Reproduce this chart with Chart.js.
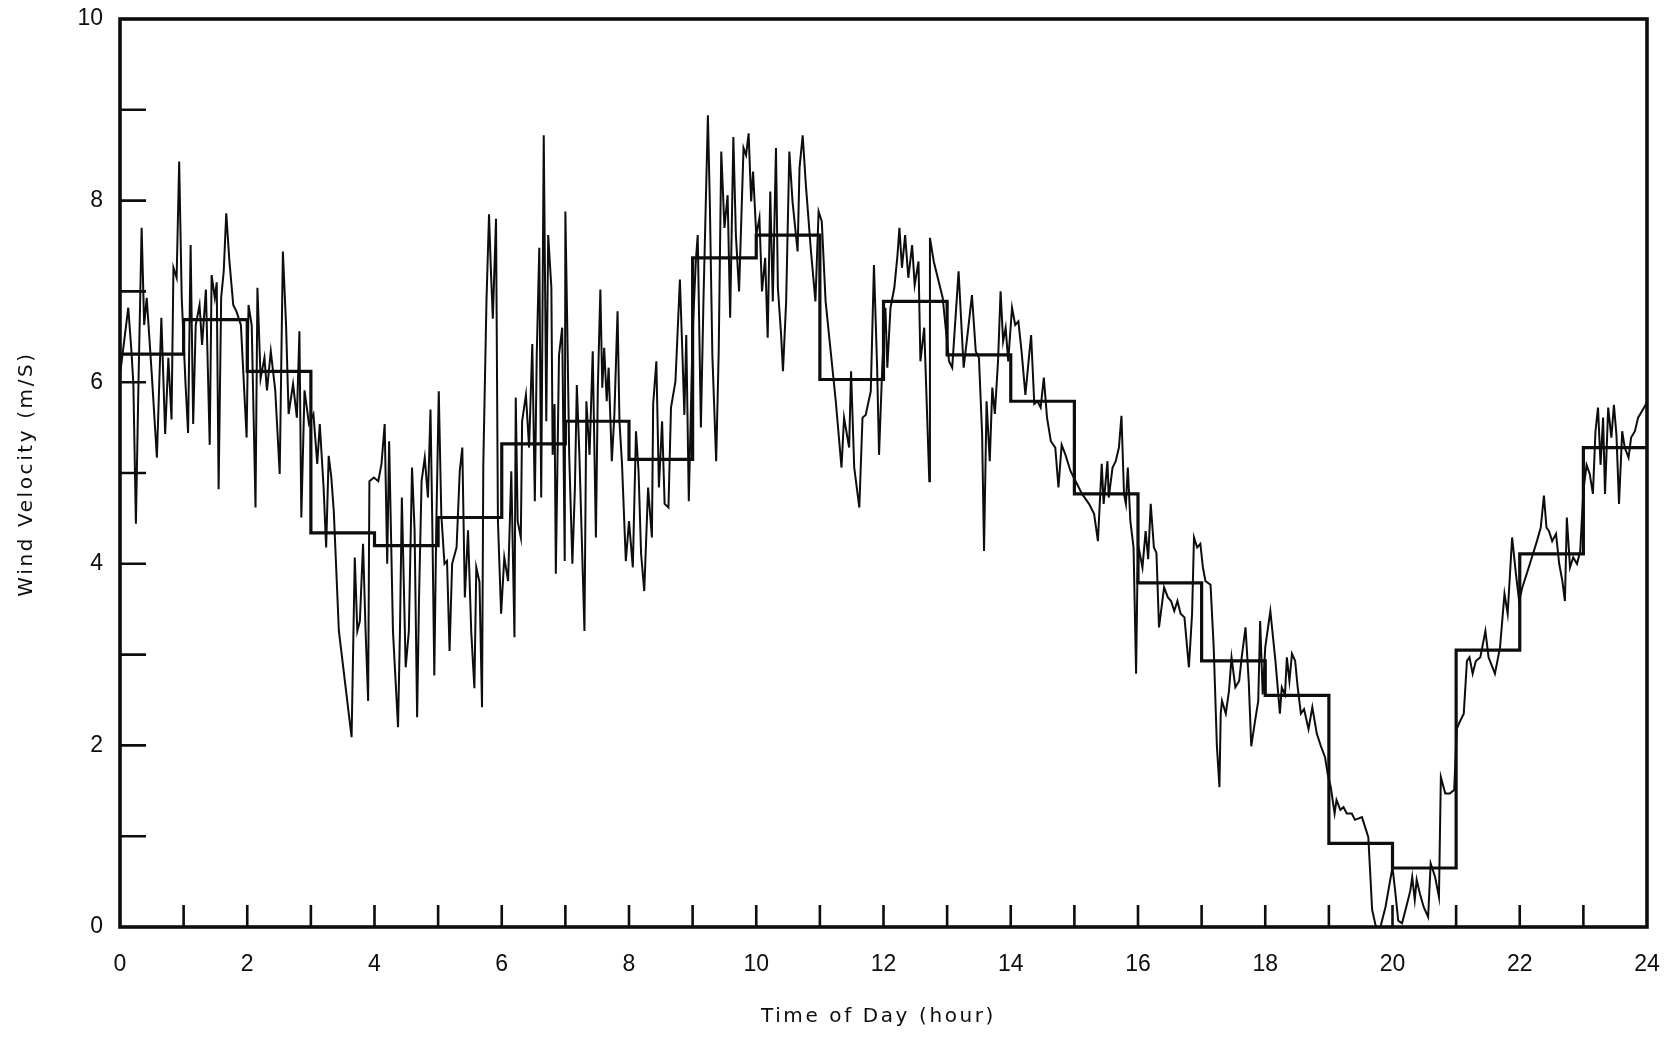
<!DOCTYPE html>
<html>
<head>
<meta charset="utf-8">
<title>Wind Velocity vs Time of Day</title>
<script src="https://cdn.jsdelivr.net/npm/chart.js@4.4.1/dist/chart.umd.min.js"></script>
<style>
  html, body { margin: 0; padding: 0; background: #fff; }
  #wind { display: block; }
</style>
</head>
<body>
<canvas id="wind" width="1667" height="1038"></canvas>
<script>
// hourly mean wind velocity (m/S), hour 0 .. 23
const hourlyMean = [6.31, 6.69, 6.12, 4.34, 4.20, 4.51, 5.32, 5.57, 5.15, 7.37, 7.62, 6.03,
                    6.89, 6.30, 5.79, 4.77, 3.79, 2.93, 2.55, 0.92, 0.65, 3.05, 4.11, 5.28];

const traceHour = [
  0, 0.13, 0.18, 0.21, 0.25, 0.29, 0.34, 0.38, 0.42, 0.50, 0.58, 0.65, 0.71, 0.76, 0.81, 0.84, 0.89, 0.93, 0.97,
  1.03, 1.07, 1.11, 1.15, 1.19, 1.25, 1.29, 1.35, 1.41, 1.44, 1.49, 1.52, 1.55, 1.59, 1.63, 1.67, 1.72, 1.78, 1.83, 1.90, 1.99,
  2.02, 2.07, 2.13, 2.16, 2.21, 2.27, 2.31, 2.37, 2.44, 2.51, 2.56, 2.61, 2.65, 2.72, 2.78, 2.82, 2.85, 2.90, 2.97,
  3.04, 3.10, 3.14, 3.20, 3.24, 3.28, 3.32, 3.36, 3.44, 3.64, 3.69, 3.73, 3.77, 3.82, 3.86, 3.90, 3.92, 3.99,
  4.06, 4.11, 4.16, 4.20, 4.23, 4.29, 4.37, 4.40, 4.43, 4.49, 4.54, 4.59, 4.63, 4.67, 4.70, 4.74, 4.79, 4.84, 4.88, 4.91, 4.94, 4.97,
  5.01, 5.05, 5.10, 5.14, 5.18, 5.22, 5.29, 5.34, 5.38, 5.42, 5.47, 5.52, 5.57, 5.60, 5.65, 5.69, 5.71, 5.76, 5.80, 5.83, 5.86, 5.91, 5.94, 5.99,
  6.04, 6.10, 6.15, 6.20, 6.22, 6.25, 6.30, 6.32, 6.38, 6.43, 6.48, 6.52, 6.55, 6.59, 6.62, 6.66, 6.70, 6.73, 6.78, 6.80, 6.83, 6.85, 6.90, 6.95, 6.99,
  7.00, 7.03, 7.06, 7.11, 7.15, 7.18, 7.22, 7.30, 7.33, 7.38, 7.43, 7.48, 7.51, 7.55, 7.58, 7.61, 7.65, 7.68, 7.73, 7.77, 7.82, 7.85, 7.89, 7.95,
  8.00, 8.06, 8.11, 8.15, 8.19, 8.24, 8.30, 8.36, 8.38, 8.43, 8.47, 8.52, 8.56, 8.62, 8.66, 8.73, 8.80, 8.84, 8.87, 8.90, 8.94,
  9.00, 9.05, 9.08, 9.13, 9.17, 9.24, 9.27, 9.31, 9.37, 9.41, 9.45, 9.50, 9.55, 9.59, 9.64, 9.68, 9.73, 9.80, 9.84, 9.88, 9.92, 9.95,
  10.00, 10.05, 10.09, 10.14, 10.18, 10.22, 10.26, 10.31, 10.34, 10.39, 10.42, 10.47, 10.52, 10.57, 10.65, 10.68, 10.73, 10.78, 10.86, 10.93, 10.98,
  11.03, 11.09, 11.17, 11.25, 11.34, 11.38, 11.46, 11.49, 11.54, 11.62, 11.67, 11.72, 11.80, 11.85, 11.90, 11.93, 11.98,
  12.03, 12.06, 12.11, 12.17, 12.22, 12.25, 12.29, 12.34, 12.39, 12.45, 12.49, 12.55, 12.58, 12.64, 12.72, 12.73, 12.79, 12.93,
  13.03, 13.08, 13.18, 13.26, 13.32, 13.39, 13.45, 13.50, 13.55, 13.58, 13.62, 13.67, 13.71, 13.75, 13.80, 13.84, 13.88, 13.92, 13.96,
  14.02, 14.07, 14.12, 14.17, 14.23, 14.28, 14.32, 14.37, 14.42, 14.47, 14.52, 14.57, 14.63, 14.70, 14.75, 14.80, 14.86, 14.94,
  15.02, 15.12, 15.23, 15.31, 15.37, 15.43, 15.46, 15.52, 15.54, 15.60, 15.65, 15.70, 15.74, 15.78, 15.81, 15.84, 15.88, 15.93, 15.97, 15.99,
  16.01, 16.07, 16.12, 16.16, 16.20, 16.25, 16.29, 16.33, 16.41, 16.47, 16.52, 16.57, 16.62, 16.67, 16.73, 16.80, 16.85, 16.88, 16.93, 16.98,
  17.02, 17.06, 17.14, 17.19, 17.24, 17.28, 17.30, 17.32, 17.38, 17.43, 17.47, 17.53, 17.59, 17.63, 17.69, 17.74, 17.78, 17.84, 17.89, 17.92, 17.96,
  18.00, 18.08, 18.16, 18.23, 18.26, 18.31, 18.34, 18.38, 18.42, 18.47, 18.51, 18.56, 18.61, 18.68, 18.74, 18.81, 18.88, 18.94, 18.98,
  19.03, 19.09, 19.12, 19.18, 19.23, 19.28, 19.36, 19.41, 19.52, 19.57, 19.62, 19.68, 19.74, 19.81, 19.89,
  20.00, 20.04, 20.09, 20.15, 20.23, 20.28, 20.31, 20.35, 20.38, 20.43, 20.49, 20.56, 20.60, 20.67, 20.73, 20.76, 20.83, 20.90, 20.97,
  21.01, 21.05, 21.12, 21.17, 21.21, 21.26, 21.31, 21.38, 21.46, 21.51, 21.61, 21.69, 21.76, 21.81, 21.88, 21.94, 21.99,
  22.04, 22.11, 22.19, 22.27, 22.33, 22.38, 22.42, 22.46, 22.51, 22.57, 22.62, 22.67, 22.71, 22.74, 22.79, 22.84, 22.90, 22.95,
  23.00, 23.05, 23.10, 23.15, 23.19, 23.23, 23.27, 23.31, 23.34, 23.39, 23.44, 23.48, 23.52, 23.56, 23.61, 23.65, 23.71, 23.75, 23.81, 23.86, 23.92, 23.97, 24.00
];
const traceSpeed = [
  6.08, 6.82, 6.34, 5.98, 4.44, 5.98, 7.70, 6.63, 6.93, 6.08, 5.17, 6.71, 5.43, 6.27, 5.59, 7.26, 7.15, 8.43, 6.93,
  5.98, 5.44, 7.51, 5.54, 6.63, 6.85, 6.41, 7.02, 5.31, 7.18, 6.93, 7.10, 4.82, 6.93, 7.22, 7.86, 7.33, 6.85, 6.78, 6.63, 5.39,
  6.85, 6.63, 4.62, 7.04, 6.04, 6.27, 5.91, 6.34, 5.91, 4.99, 7.44, 6.63, 5.65, 5.98, 5.61, 6.56, 4.51, 5.91, 5.54,
  5.65, 5.10, 5.54, 4.84, 4.18, 5.19, 4.96, 4.58, 3.26, 2.09, 4.07, 3.26, 3.37, 4.22, 3.26, 2.49, 4.91, 4.95,
  4.91, 5.10, 5.54, 4.00, 5.35, 3.26, 2.20, 3.26, 4.73, 2.86, 3.26, 5.06, 4.37, 2.31, 3.63, 4.91, 5.17, 4.73, 5.70, 4.37, 2.77, 4.37,
  5.90, 4.54, 4.00, 4.03, 3.04, 4.00, 4.18, 5.02, 5.28, 3.63, 4.37, 3.26, 2.63, 3.96, 3.80, 2.42, 5.09, 6.90, 7.85, 7.22, 6.70, 7.80, 4.47, 3.45,
  4.07, 3.81, 5.02, 3.19, 5.83, 4.47, 4.29, 5.57, 5.86, 5.28, 6.42, 4.69, 6.30, 7.48, 4.73, 8.72, 5.57, 7.62, 7.04, 5.20, 5.76, 3.89, 6.30, 6.60, 4.03,
  7.88, 6.60, 5.20, 4.00, 4.84, 5.97, 5.20, 3.26, 5.79, 5.20, 6.34, 4.29, 5.94, 7.02, 5.94, 6.38, 5.79, 6.16, 5.13, 5.64, 6.78, 5.57, 5.10, 4.03,
  4.47, 3.96, 5.46, 5.02, 4.11, 3.70, 4.84, 4.29, 5.76, 6.23, 4.84, 5.57, 4.66, 4.62, 5.72, 6.01, 7.13, 6.30, 5.64, 6.52, 4.69,
  6.53, 7.33, 7.62, 5.50, 6.89, 8.94, 7.99, 6.30, 5.13, 6.34, 8.54, 7.70, 8.06, 6.71, 8.70, 7.62, 7.00, 8.58, 8.50, 8.74, 7.99, 8.32,
  7.62, 7.81, 7.00, 7.37, 6.49, 8.10, 6.89, 8.58, 7.04, 6.53, 6.12, 6.89, 8.54, 7.99, 7.44, 8.36, 8.72, 8.17, 7.44, 6.89, 7.88,
  7.77, 6.89, 6.34, 5.79, 5.06, 5.61, 5.28, 6.12, 5.06, 4.62, 5.61, 5.64, 5.90, 7.29, 6.16, 5.20, 6.16,
  6.82, 6.16, 6.82, 7.04, 7.40, 7.70, 7.26, 7.62, 7.15, 7.51, 7.07, 7.33, 6.23, 6.60, 4.91, 7.59, 7.33, 6.93,
  6.23, 6.16, 7.22, 6.16, 6.52, 6.96, 6.34, 6.27, 5.43, 4.14, 5.79, 5.13, 5.94, 5.65, 6.23, 7.00, 6.45, 6.60, 6.23,
  6.82, 6.63, 6.67, 6.34, 5.86, 6.23, 6.52, 5.76, 5.79, 5.72, 6.05, 5.61, 5.35, 5.28, 4.84, 5.31, 5.20, 5.02,
  4.91, 4.77, 4.66, 4.55, 4.25, 5.10, 4.66, 5.13, 4.73, 5.06, 5.13, 5.28, 5.63, 4.77, 4.66, 5.06, 4.47, 4.18, 2.79, 3.81,
  4.18, 3.96, 4.36, 4.05, 4.66, 4.18, 4.12, 3.30, 3.74, 3.63, 3.59, 3.48, 3.59, 3.45, 3.41, 2.86, 3.45, 4.29, 4.18, 4.22,
  3.96, 3.81, 3.77, 3.08, 1.99, 1.54, 2.35, 2.49, 2.35, 2.60, 2.97, 2.64, 2.71, 2.97, 3.30, 2.71, 1.99, 2.27, 2.49, 3.37, 2.56,
  3.08, 3.48, 2.93, 2.35, 2.64, 2.56, 2.97, 2.71, 3.01, 2.93, 2.64, 2.35, 2.40, 2.18, 2.42, 2.13, 1.98, 1.87, 1.69,
  1.54, 1.25, 1.40, 1.29, 1.32, 1.25, 1.25, 1.18, 1.21, 1.10, 0.99, 0.19, 0.00, 0.00, 0.22,
  0.66, 0.41, 0.07, 0.04, 0.26, 0.40, 0.55, 0.30, 0.52, 0.37, 0.22, 0.11, 0.70, 0.55, 0.33, 1.65, 1.47, 1.47, 1.51,
  2.18, 2.25, 2.35, 2.93, 2.97, 2.79, 2.93, 2.97, 3.26, 2.97, 2.79, 3.08, 3.67, 3.45, 4.29, 3.89, 3.59,
  3.74, 3.89, 4.07, 4.25, 4.40, 4.75, 4.40, 4.36, 4.25, 4.33, 4.00, 3.81, 3.59, 4.51, 3.96, 4.07, 4.00, 4.14,
  4.80, 5.09, 4.99, 4.77, 5.46, 5.72, 5.09, 5.61, 4.77, 5.72, 5.39, 5.75, 5.42, 4.66, 5.46, 5.28, 5.17, 5.39, 5.46, 5.61, 5.68, 5.74, 5.78
];

const xTickValues = [0, 2, 4, 6, 8, 10, 12, 14, 16, 18, 20, 22, 24];
const yTickValues = [0, 2, 4, 6, 8, 10];
const xTitle = 'Time of Day (hour)';
const yTitle = 'Wind Velocity (m/S)';

const ink = '#0d0d0d';
const tickFont = { family: "'Liberation Sans', Arial, sans-serif", size: 23 };

// hourly steps: value held from hour i to hour i+1
const stepPoints = hourlyMean.map((v, i) => ({ x: i, y: v }));
stepPoints.push({ x: hourlyMean.length, y: hourlyMean[hourlyMean.length - 1] });

const tracePoints = traceHour.map((h, i) => ({ x: h, y: traceSpeed[i] }));

// box around the plot, inward tick marks at every hour / every m/S,
// and the wide-set axis titles (Chart.js has no letter spacing option)
const frameAndTicks = {
  id: 'frameAndTicks',
  afterDraw(chart) {
    const { ctx, chartArea: a, scales: { x, y } } = chart;
    ctx.save();
    ctx.strokeStyle = ink;
    ctx.lineWidth = 2.6;
    ctx.beginPath();
    for (let h = x.min + 1; h < x.max; h++) {
      const px = x.getPixelForValue(h);
      ctx.moveTo(px, a.bottom);
      ctx.lineTo(px, a.bottom - 22);
    }
    for (let v = y.min + 1; v < y.max; v++) {
      const py = y.getPixelForValue(v);
      ctx.moveTo(a.left, py);
      ctx.lineTo(a.left + 26, py);
    }
    ctx.stroke();
    ctx.lineWidth = 3.6;
    ctx.strokeRect(a.left, a.top, a.right - a.left, a.bottom - a.top);

    ctx.fillStyle = ink;
    ctx.font = "20px 'DejaVu Sans', sans-serif";
    ctx.letterSpacing = '2.6px';
    ctx.textAlign = 'center';
    ctx.textBaseline = 'middle';
    ctx.fillText(xTitle, (a.left + a.right) / 2 - 5, a.bottom + 90);
    ctx.translate(27, (a.top + a.bottom) / 2 + 1);
    ctx.rotate(-Math.PI / 2);
    ctx.fillText(yTitle, 0, 0);
    ctx.restore();
  }
};

new Chart(document.getElementById('wind').getContext('2d'), {
  type: 'line',
  data: {
    datasets: [
      {
        label: 'Wind velocity',
        data: tracePoints,
        borderColor: ink,
        borderWidth: 2,
        pointRadius: 0,
        tension: 0
      },
      {
        label: 'Hourly average',
        data: stepPoints,
        borderColor: ink,
        borderWidth: 3.2,
        pointRadius: 0,
        stepped: 'before'
      }
    ]
  },
  options: {
    responsive: false,
    animation: false,
    devicePixelRatio: 1,
    layout: { padding: { top: 19, right: 20, left: 0, bottom: 0 } },
    plugins: { legend: { display: false }, tooltip: { enabled: false } },
    scales: {
      x: {
        type: 'linear',
        min: 0,
        max: 24,
        afterBuildTicks: s => { s.ticks = xTickValues.map(v => ({ value: v })); },
        afterFit: s => { s.height = 111; s.paddingLeft = 0; s.paddingRight = 0; },
        grid: { display: false, drawTicks: false },
        border: { display: false },
        ticks: { color: ink, font: tickFont, padding: 24, maxRotation: 0 }
      },
      y: {
        min: 0,
        max: 10,
        afterBuildTicks: s => { s.ticks = yTickValues.map(v => ({ value: v })); },
        afterFit: s => { s.width = 120; s.paddingTop = 0; s.paddingBottom = 0; },
        grid: { display: false, drawTicks: false },
        border: { display: false },
        ticks: { color: ink, font: tickFont, padding: 17 }
      }
    }
  },
  plugins: [frameAndTicks]
});
</script>
</body>
</html>
